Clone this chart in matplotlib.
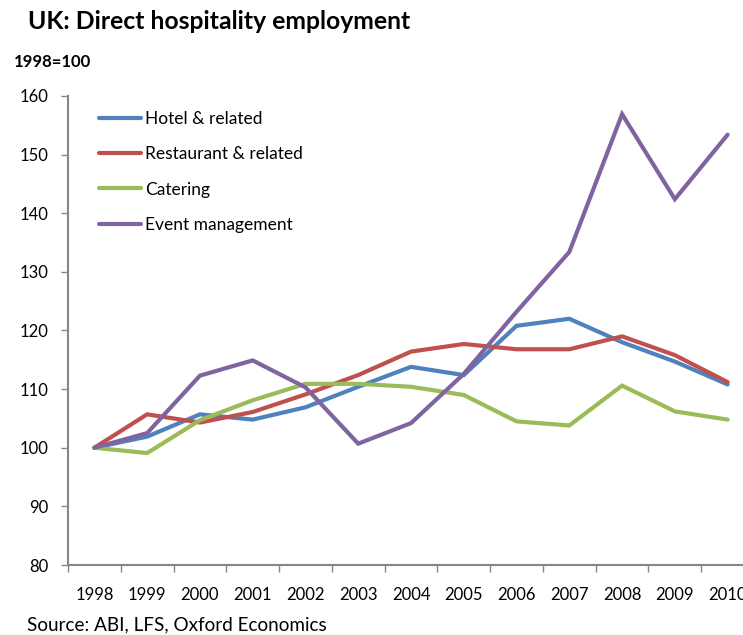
import matplotlib
matplotlib.use("Agg")
from matplotlib import pyplot as plt
from matplotlib.ticker import FixedLocator
import numpy as np

plt.rcParams['font.family'] = ['Lato', 'DejaVu Sans']

# data (1998 = 100)
years = [1998, 1999, 2000, 2001, 2002, 2003, 2004, 2005, 2006, 2007, 2008, 2009, 2010]
hotel = [100, 101.9, 105.7, 104.8, 106.9, 110.4, 113.8, 112.4, 120.8, 122.0, 118.0, 114.7, 110.8]
restaurant = [100, 105.7, 104.3, 106.1, 109.1, 112.4, 116.4, 117.7, 116.8, 116.8, 119.0, 115.8, 111.2]
catering = [100, 99.1, 104.7, 108.1, 110.9, 110.9, 110.4, 109.0, 104.5, 103.8, 110.6, 106.2, 104.8]
events = [100, 102.5, 112.3, 114.9, 110.3, 100.7, 104.2, 112.6, 123.2, 133.4, 156.9, 142.4, 153.4]

series = [
    ("Hotel & related", hotel, "#4F81BD"),
    ("Restaurant & related", restaurant, "#C0504D"),
    ("Catering", catering, "#9BBB59"),
    ("Event management", events, "#8064A2"),
]

fig = plt.figure(figsize=(7.43, 6.35), dpi=100)
ax = fig.add_axes([68 / 743, 70 / 635, 686 / 743, 469 / 635])

x = np.arange(len(years))
for name, vals, col in series:
    ax.plot(x, vals, color=col, lw=3, label=name, solid_capstyle='round', solid_joinstyle='miter')

ax.set_xlim(-0.5, len(years) - 0.5)
ax.set_ylim(80, 160)
ax.set_yticks(range(80, 161, 10))
ax.set_xticks(x)
ax.set_xticklabels([str(y) for y in years])
# ticks sit between the categories, like a category axis
ax.xaxis.set_minor_locator(FixedLocator(np.arange(-0.5, len(years), 1)))

grey = "#868686"
for s in ["top", "right"]:
    ax.spines[s].set_visible(False)
for s in ["left", "bottom"]:
    ax.spines[s].set_color(grey)
    ax.spines[s].set_linewidth(1.5)

ax.tick_params(axis='x', which='major', length=0, pad=16, labelsize=12)
ax.tick_params(axis='x', which='minor', length=5, color=grey, width=1)
ax.tick_params(axis='y', length=5, color=grey, width=1, pad=9, labelsize=12)

leg = ax.legend(loc='upper left', bbox_to_anchor=(0.023, 1.002), frameon=False,
                fontsize=12.5, handlelength=2.4, handletextpad=0.25, labelspacing=1.12)

fig.text(28 / 743, 1 - 29 / 635, "UK: Direct hospitality employment",
         fontsize=17.8, fontweight='bold', va='baseline', ha='left')
fig.text(14 / 743, 1 - 67 / 635, "1998=100", fontsize=12, fontweight='bold',
         va='baseline', ha='left')
fig.text(27 / 743, 1 - 630 / 635, "Source: ABI, LFS, Oxford Economics", fontsize=13.6,
         va='baseline', ha='left')

fig.savefig("out.png", dpi=100)
